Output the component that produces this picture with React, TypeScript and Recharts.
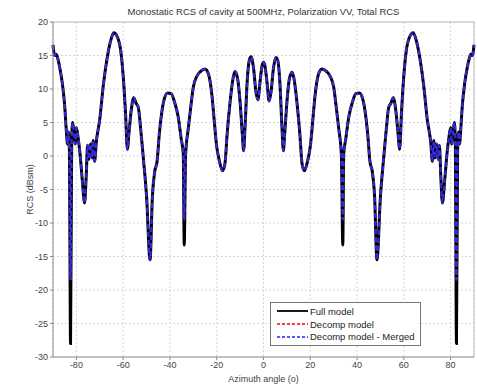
import { CartesianGrid, Label, Line, LineChart, ReferenceLine, XAxis, YAxis } from 'recharts';

// azimuth angles (deg)
const angles = [
  -90, -89.3, -88.6, -88, -87, -86, -85, -84.3, -83.8, -83.4,
  -83, -82.5, -82, -81.6, -81, -80.5, -80, -79.3, -78.5, -77.5,
  -76.5, -75.8, -75.2, -74.6, -74, -73.3, -72.8, -72.2, -71.5, -70,
  -68.5, -67, -65.5, -64, -62.5, -61, -60, -59, -58.2, -57.5,
  -56.5, -55.5, -54.5, -53.5, -52.5, -51.3, -50, -48.5, -47.5, -46.5,
  -45.5, -44.5, -43.5, -42.5, -41, -39.5, -38, -36.5, -35.2, -34.3,
  -33.9, -33.3, -32.2, -31, -30, -28.5, -27, -25, -23.5, -22,
  -21, -20, -19, -17.5, -16.5, -15.5, -14.3, -13, -12.2, -11,
  -10, -9, -8.5, -7.8, -7, -6, -5.3, -4.3, -3.2, -2.4,
  -1.5, -0.6, 0, 0.6, 1.5,
  2.4, 3.2, 4.3, 5.3, 6, 7, 7.8, 8.5, 9, 10,
  11, 12.2, 13, 14.3, 15.5, 16.5, 17.5, 19, 20, 21,
  22, 23.5, 25, 27, 28.5, 30, 31, 32.2, 33.3, 33.9,
  34.3, 35.2, 36.5, 38, 39.5, 41, 42.5, 43.5, 44.5, 45.5,
  46.5, 47.5, 48.5, 50, 51.3, 52.5, 53.5, 54.5, 55.5, 56.5,
  57.5, 58.2, 59, 60, 61, 62.5, 64, 65.5, 67, 68.5,
  70, 71.5, 72.2, 72.8, 73.3, 74, 74.6, 75.2, 75.8, 76.5,
  77.5, 78.5, 79.3, 80, 80.5, 81, 81.6, 82, 82.5, 83,
  83.4, 83.8, 84.3, 85, 86, 87, 88, 88.6, 89.3, 90,
];

// RCS (dBsm)
const fullModel = [
  16.6, 15.0, 15.2, 14.6, 13.0, 10.8, 7.5, 3.8, 1.8, 3.6,
  1.0, -28.0, 2.5, 5.0, 3.2, 1.8, 4.2, 2.8, 0.5, -3.5,
  -7.0, -3.0, 1.6, -0.5, 1.8, -0.3, 2.3, -0.8, 2.0, 5.5,
  10.5, 14.3, 17.0, 18.4, 17.8, 15.6, 12.0, 6.5, 1.0, 3.5,
  7.0, 8.7, 7.9, 7.2, 4.0, -0.6, -6.0, -15.5, -6.0, -2.3,
  -0.8, 3.5, 6.5, 8.4, 9.4, 9.3, 8.0, 5.9, 2.6, 0.3,
  -13.3, 0.2, 4.0, 7.6, 10.3, 11.9, 12.6, 13.0, 12.2, 8.9,
  5.0, 1.4, -0.5, -2.2, -1.2, 3.5, 8.0, 11.6, 12.6, 11.4,
  8.0, 3.0, 0.8, 5.0, 11.0, 14.4, 14.8, 13.2, 9.5, 8.4,
  11.0, 13.5, 14.0, 13.5, 11.0,
  8.2, 9.5, 13.2, 14.7, 14.4, 11.0, 5.0, 0.8, 3.0, 8.0,
  11.4, 12.5, 11.6, 8.0, 3.5, -1.2, -2.2, -0.5, 1.4, 5.0,
  8.9, 12.2, 13.0, 12.6, 11.9, 10.3, 7.6, 4.0, 0.2, -13.3,
  0.3, 2.6, 5.9, 8.0, 9.3, 9.4, 8.4, 6.5, 3.5, -0.8,
  -2.3, -6.0, -15.5, -6.0, -0.6, 4.0, 7.2, 7.9, 8.7, 7.0,
  3.5, 1.0, 6.5, 12.0, 15.6, 17.8, 18.4, 17.0, 14.3, 10.5,
  5.5, 2.0, -0.8, 2.3, -0.3, 1.8, -0.5, 1.6, -3.0, -7.0,
  -3.5, 0.5, 2.8, 4.2, 1.8, 3.2, 5.0, 2.5, -28.0, 1.0,
  3.6, 1.8, 3.8, 7.5, 10.8, 13.0, 14.6, 15.2, 15.0, 16.6,
];

const decompModel = [
  16.6, 15.0, 15.2, 14.6, 13.0, 10.8, 7.5, 3.8, 1.8, 3.6,
  1.0, -18.5, 2.5, 5.0, 3.2, 1.8, 4.2, 2.8, 0.5, -3.5,
  -7.0, -3.0, 1.6, -0.5, 1.8, -0.3, 2.3, -0.8, 2.0, 5.5,
  10.5, 14.3, 17.0, 18.4, 17.8, 15.6, 12.0, 6.5, 1.0, 3.5,
  7.0, 8.7, 7.9, 7.2, 4.0, -0.6, -6.0, -15.5, -6.0, -2.3,
  -0.8, 3.5, 6.5, 8.4, 9.4, 9.3, 8.0, 5.9, 2.6, 0.3,
  -9.5, 0.2, 4.0, 7.6, 10.3, 11.9, 12.6, 13.0, 12.2, 8.9,
  5.0, 1.4, -0.5, -2.2, -1.2, 3.5, 8.0, 11.6, 12.6, 11.4,
  8.0, 3.0, 0.8, 5.0, 11.0, 14.4, 14.8, 13.2, 9.5, 8.4,
  11.0, 13.5, 14.0, 13.5, 11.0,
  8.2, 9.5, 13.2, 14.7, 14.4, 11.0, 5.0, 0.8, 3.0, 8.0,
  11.4, 12.5, 11.6, 8.0, 3.5, -1.2, -2.2, -0.5, 1.4, 5.0,
  8.9, 12.2, 13.0, 12.6, 11.9, 10.3, 7.6, 4.0, 0.2, -9.5,
  0.3, 2.6, 5.9, 8.0, 9.3, 9.4, 8.4, 6.5, 3.5, -0.8,
  -2.3, -6.0, -15.5, -6.0, -0.6, 4.0, 7.2, 7.9, 8.7, 7.0,
  3.5, 1.0, 6.5, 12.0, 15.6, 17.8, 18.4, 17.0, 14.3, 10.5,
  5.5, 2.0, -0.8, 2.3, -0.3, 1.8, -0.5, 1.6, -3.0, -7.0,
  -3.5, 0.5, 2.8, 4.2, 1.8, 3.2, 5.0, 2.5, -18.5, 1.0,
  3.6, 1.8, 3.8, 7.5, 10.8, 13.0, 14.6, 15.2, 15.0, 16.6,
];

const decompMerged = [
  16.6, 15.0, 15.2, 14.6, 13.0, 10.8, 7.5, 3.8, 1.8, 3.6,
  1.0, -18.5, 2.5, 5.0, 3.2, 1.8, 4.2, 2.8, 0.5, -3.5,
  -7.0, -3.0, 1.6, -0.5, 1.8, -0.3, 2.3, -0.8, 2.0, 5.5,
  10.5, 14.3, 17.0, 18.4, 17.8, 15.6, 12.0, 6.5, 1.0, 3.5,
  7.0, 8.7, 7.9, 7.2, 4.0, -0.6, -6.0, -15.5, -6.0, -2.3,
  -0.8, 3.5, 6.5, 8.4, 9.4, 9.3, 8.0, 5.9, 2.6, 0.3,
  -9.5, 0.2, 4.0, 7.6, 10.3, 11.9, 12.6, 13.0, 12.2, 8.9,
  5.0, 1.4, -0.5, -2.2, -1.2, 3.5, 8.0, 11.6, 12.6, 11.4,
  8.0, 3.0, 0.8, 5.0, 11.0, 14.4, 14.8, 13.2, 9.5, 8.4,
  11.0, 13.5, 14.0, 13.5, 11.0,
  8.2, 9.5, 13.2, 14.7, 14.4, 11.0, 5.0, 0.8, 3.0, 8.0,
  11.4, 12.5, 11.6, 8.0, 3.5, -1.2, -2.2, -0.5, 1.4, 5.0,
  8.9, 12.2, 13.0, 12.6, 11.9, 10.3, 7.6, 4.0, 0.2, -9.5,
  0.3, 2.6, 5.9, 8.0, 9.3, 9.4, 8.4, 6.5, 3.5, -0.8,
  -2.3, -6.0, -15.5, -6.0, -0.6, 4.0, 7.2, 7.9, 8.7, 7.0,
  3.5, 1.0, 6.5, 12.0, 15.6, 17.8, 18.4, 17.0, 14.3, 10.5,
  5.5, 2.0, -0.8, 2.3, -0.3, 1.8, -0.5, 1.6, -3.0, -7.0,
  -3.5, 0.5, 2.8, 4.2, 1.8, 3.2, 5.0, 2.5, -18.5, 1.0,
  3.6, 1.8, 3.8, 7.5, 10.8, 13.0, 14.6, 15.2, 15.0, 16.6,
];

const xTicks = [-80, -60, -40, -20, 0, 20, 40, 60, 80];
const yTicks = [-30, -25, -20, -15, -10, -5, 0, 5, 10, 15, 20];

const title = 'Monostatic RCS of cavity at 500MHz, Polarization VV, Total RCS';

const legendItems = [
  { name: 'Full model', color: '#000000', dash: undefined },
  { name: 'Decomp model', color: '#ff0000', dash: '3 2' },
  { name: 'Decomp model - Merged', color: '#2020ff', dash: '3 2' },
];

const data = angles.map((angle, i) => ({
  angle,
  full: fullModel[i],
  decomp: decompModel[i],
  merged: decompMerged[i],
}));

const axisColor = '#8a8a8a';
const textColor = '#444';

const App = () => {
  return (
    <div
      style={{
        position: 'absolute',
        left: 0,
        top: 0,
        width: 477,
        height: 385,
        background: '#fff',
        fontFamily: '"Liberation Sans", Arial, sans-serif',
      }}
    >
      <div
        style={{
          position: 'absolute',
          left: 53,
          top: 6,
          width: 421,
          textAlign: 'center',
          fontSize: 9.5,
          color: '#333',
          lineHeight: '11px',
        }}
      >
        {title}
      </div>
      <LineChart width={477} height={385} data={data} margin={{ top: 22, right: 3, bottom: 0, left: 13 }}>
        <CartesianGrid stroke="#d6d6d6" strokeDasharray="2 2" />
        <XAxis
          dataKey="angle"
          type="number"
          domain={[-90, 90]}
          ticks={xTicks}
          height={28}
          tickSize={3}
          tickMargin={2}
          tick={{ fontSize: 9, fill: textColor }}
          stroke={axisColor}
        >
          <Label value="Azimuth angle (o)" position="insideBottom" offset={3} fontSize={9} fill={textColor} />
        </XAxis>
        <YAxis
          type="number"
          domain={[-30, 20]}
          ticks={yTicks}
          width={40}
          tickSize={3}
          tickMargin={2}
          tick={{ fontSize: 9, fill: textColor }}
          stroke={axisColor}
          allowDataOverflow
        >
          <Label value="RCS (dBsm)" angle={-90} position="center" dx={-3} fontSize={9} fill={textColor} />
        </YAxis>
        <ReferenceLine y={20} stroke="#bbb" />
        <ReferenceLine x={90} stroke="#bbb" />
        <Line
          type="monotone"
          dataKey="full"
          stroke="#000000"
          strokeWidth={3}
          dot={false}
          isAnimationActive={false}
        />
        <Line
          type="monotone"
          dataKey="decomp"
          stroke="#e02020"
          strokeWidth={2}
          strokeDasharray="2 6"
          dot={false}
          isAnimationActive={false}
        />
        <Line
          type="monotone"
          dataKey="merged"
          stroke="#2a2ae0"
          strokeWidth={2.2}
          strokeDasharray="5 3"
          dot={false}
          isAnimationActive={false}
        />
      </LineChart>
      <div
        style={{
          position: 'absolute',
          left: 270,
          top: 302,
          width: 151,
          height: 44,
          border: '1px solid #777',
          background: '#fff',
          boxSizing: 'border-box',
          paddingTop: 2,
        }}
      >
        {legendItems.map((item) => (
          <div key={item.name} style={{ display: 'flex', alignItems: 'center', height: 12.7 }}>
            <svg width={33} height={8} style={{ marginLeft: 6 }}>
              <line
                x1={0}
                y1={4}
                x2={31}
                y2={4}
                stroke={item.color}
                strokeWidth={item.dash ? 1.4 : 1.8}
                strokeDasharray={item.dash}
              />
            </svg>
            <span style={{ fontSize: 9.5, color: '#222', whiteSpace: 'nowrap' }}>{item.name}</span>
          </div>
        ))}
      </div>
    </div>
  );
};

export default App;
